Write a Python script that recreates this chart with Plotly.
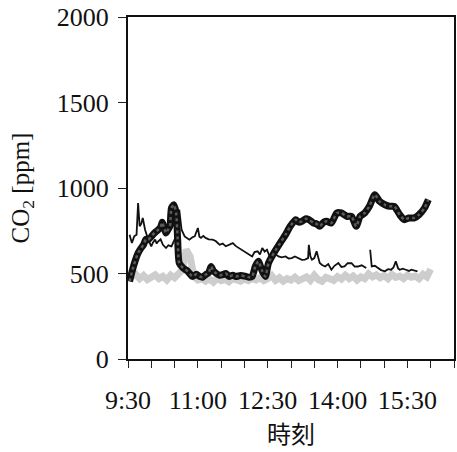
import plotly.graph_objects as go

DAY = "2020-01-01 "

# Room A (thick line)
a_time = ["9:32", "9:37", "9:43", "9:47", "9:50", "9:53", "9:56", "10:00", "10:02", "10:06", "10:09", "10:12",
          "10:14", "10:17", "10:19", "10:22", "10:24", "10:26", "10:29", "10:32", "10:34", "10:36", "10:41",
          "10:47", "10:53", "10:58", "11:02", "11:06", "11:10", "11:14", "11:17", "11:20", "11:23", "11:28",
          "11:32", "11:36", "11:40", "11:45", "11:49", "11:55", "12:02", "12:06", "12:10", "12:14", "12:18",
          "12:23", "12:27", "12:31", "12:38", "12:46", "12:53", "12:59", "13:06", "13:10", "13:14", "13:19",
          "13:23", "13:29", "13:33", "13:37", "13:42", "13:46", "13:52", "13:59", "14:05", "14:12", "14:18",
          "14:24", "14:29", "14:35", "14:41", "14:48", "14:54", "15:01", "15:07", "15:13", "15:20", "15:26",
          "15:32", "15:39", "15:45", "15:52", "15:57"]
a_co2 = [454, 541, 620, 650, 668, 700, 698, 715, 727, 745, 756, 770,
         799, 760, 737, 760, 776, 883, 902, 854, 698, 561, 532,
         513, 483, 495, 483, 478, 493, 505, 541, 515, 503, 490,
         493, 500, 483, 490, 483, 488, 483, 478, 483, 541, 571,
         513, 483, 561, 620, 678, 727, 776, 815, 800, 805, 820,
         815, 795, 790, 776, 800, 805, 795, 854, 854, 834, 834,
         776, 834, 854, 893, 961, 922, 902, 893, 893, 844, 815,
         825, 825, 844, 883, 932]

# Room B (thin line)
b_time = ["9:32", "9:35", "9:38", "9:41", "9:43", "9:45", "9:47", "9:49", "9:52", "9:56", "10:00", "10:02",
          "10:05", "10:07", "10:09", "10:12", "10:15", "10:19", "10:22", "10:26", "10:30", "10:34", "10:36",
          "10:39", "10:43", "10:46", "10:49", "10:53", "10:56", "11:00", "11:02", "11:04", "11:07", "11:10",
          "11:14", "11:19", "11:23", "11:28", "11:32", "11:36", "11:40", "11:45", "11:49", "11:53", "11:58",
          "12:02", "12:06", "12:10", "12:13", "12:17", "12:20", "12:23", "12:26", "12:29", "12:32", "12:36",
          "12:40", "12:44", "12:48", "12:53", "12:57", "13:01", "13:05", "13:10", "13:14", "13:18", "13:22",
          "13:23", "13:25", "13:27", "13:30", "13:33", "13:35", "13:37", "13:40", "13:44", "13:48", "13:52",
          "13:56", "14:01", "14:05", "14:09", "14:13", "14:18", "14:22", "14:26", "14:31", "14:37", "14:39",
          "14:42", "14:44", "14:48", "14:52", "14:56", "15:01", "15:05", "15:09", "15:12", "15:15", "15:18",
          "15:20", "15:24", "15:28", "15:32", "15:35", "15:39", "15:43"]
b_co2 = [727, 678, 717, 727, 912, 776, 790, 825, 756, 698, 659, 680,
         698, 675, 688, 700, 668, 649, 665, 659, 698, 737, 873,
         756, 717, 705, 698, 712, 717, 766, 715, 708, 720, 708,
         700, 698, 690, 668, 675, 659, 668, 678, 660, 649, 635,
         620, 612, 600, 625, 630, 612, 649, 628, 639, 605, 600,
         612, 600, 595, 600, 588, 590, 600, 590, 580, 581, 590,
         668, 600, 581, 590, 630, 585, 561, 550, 541, 555, 522,
         545, 561, 538, 541, 560, 561, 540, 541, 548, 532, None,
         639, 541, 545, 532, 520, 513, 525, 522, 535, 571, 530,
         522, 528, 522, 515, 522, 518, 513]

# Outdoor / reference (light band)
c_time = ["9:35", "9:40", "9:45", "9:50", "9:55", "10:00", "10:05", "10:10", "10:15", "10:20", "10:25", "10:30",
          "10:35", "10:40", "10:45", "10:50", "10:55", "11:00", "11:05", "11:10", "11:15", "11:20", "11:25",
          "11:30", "11:35", "11:40", "11:45", "11:50", "11:55", "12:00", "12:05", "12:10", "12:15", "12:20",
          "12:25", "12:30", "12:35", "12:40", "12:45", "12:50", "12:55", "13:00", "13:05", "13:10", "13:15",
          "13:20", "13:25", "13:30", "13:35", "13:40", "13:45", "13:50", "13:55", "14:00", "14:05", "14:10",
          "14:15", "14:20", "14:25", "14:30", "14:35", "14:40", "14:45", "14:50", "14:55", "15:00", "15:05",
          "15:10", "15:15", "15:20", "15:25", "15:30", "15:35", "15:40", "15:45", "15:50", "15:55", "16:00"]
c_co2 = [480, 495, 470, 488, 465, 478, 492, 470, 483, 462, 490, 475,
         495, 520, 640, 600, 480, 462, 470, 455, 468, 450, 472,
         458, 465, 452, 470, 460, 455, 468, 458, 470, 462, 475,
         458, 470, 488, 460, 475, 455, 470, 462, 478, 458, 472,
         480, 460, 490, 465, 455, 478, 470, 460, 482, 468, 490,
         470, 485, 462, 480, 470, 498, 480, 492, 475, 488, 470,
         495, 478, 485, 470, 490, 478, 485, 470, 495, 480, 525]

y_ticks = [0, 500, 1000, 1500, 2000]


def ts(times):
    return [DAY + t for t in times]


fig = go.Figure()
fig.add_trace(go.Scatter(x=ts(c_time), y=c_co2, mode="lines",
                         line=dict(color="#cdcdcd", width=7), showlegend=False))
fig.add_trace(go.Scatter(x=ts(b_time), y=b_co2, mode="lines", connectgaps=False,
                         line=dict(color="#111111", width=1.8), showlegend=False))
fig.add_trace(go.Scatter(x=ts(a_time), y=a_co2, mode="lines",
                         line=dict(color="#111111", width=7, shape="spline", smoothing=0.6),
                         showlegend=False))
fig.add_trace(go.Scatter(x=ts(a_time), y=a_co2, mode="lines",
                         line=dict(color="#5a5a5a", width=2.5, dash="dot", shape="spline", smoothing=0.6),
                         showlegend=False))

tick_font = dict(family="Liberation Serif, serif", size=26, color="#111")

fig.update_layout(
    width=457, height=452,
    margin=dict(l=128, r=1, t=17, b=93),
    paper_bgcolor="white", plot_bgcolor="white",
    xaxis=dict(
        range=[DAY + "9:30", DAY + "16:30"],
        tickmode="linear", tick0=DAY + "9:30", dtick=90 * 60 * 1000,
        tickformat="%-H:%M",
        ticks="outside", ticklen=7, tickwidth=1.2, tickcolor="#222",
        minor=dict(tickmode="linear", tick0=DAY + "9:30", dtick=30 * 60 * 1000,
                   ticks="outside", ticklen=7, tickwidth=1.2, tickcolor="#222", showgrid=False),
        showgrid=False, zeroline=False,
        showline=True, linecolor="#111", linewidth=2, mirror=True,
        tickfont=tick_font, ticklabelstandoff=10,
        title=dict(text="時刻", font=dict(family="Noto Sans CJK JP", size=24, color="#111"), standoff=10),
    ),
    yaxis=dict(
        range=[0, 2000], tickvals=y_ticks,
        ticks="outside", ticklen=8, tickwidth=1.2, tickcolor="#222",
        showgrid=False, zeroline=False,
        showline=True, linecolor="#111", linewidth=2, mirror=True,
        tickfont=tick_font, ticklabelstandoff=4,
        title=dict(text="CO<sub>2</sub> [ppm]", font=dict(family="Liberation Serif, serif", size=25, color="#111"),
                   standoff=20),
    ),
)

fig.write_html("out.html")
